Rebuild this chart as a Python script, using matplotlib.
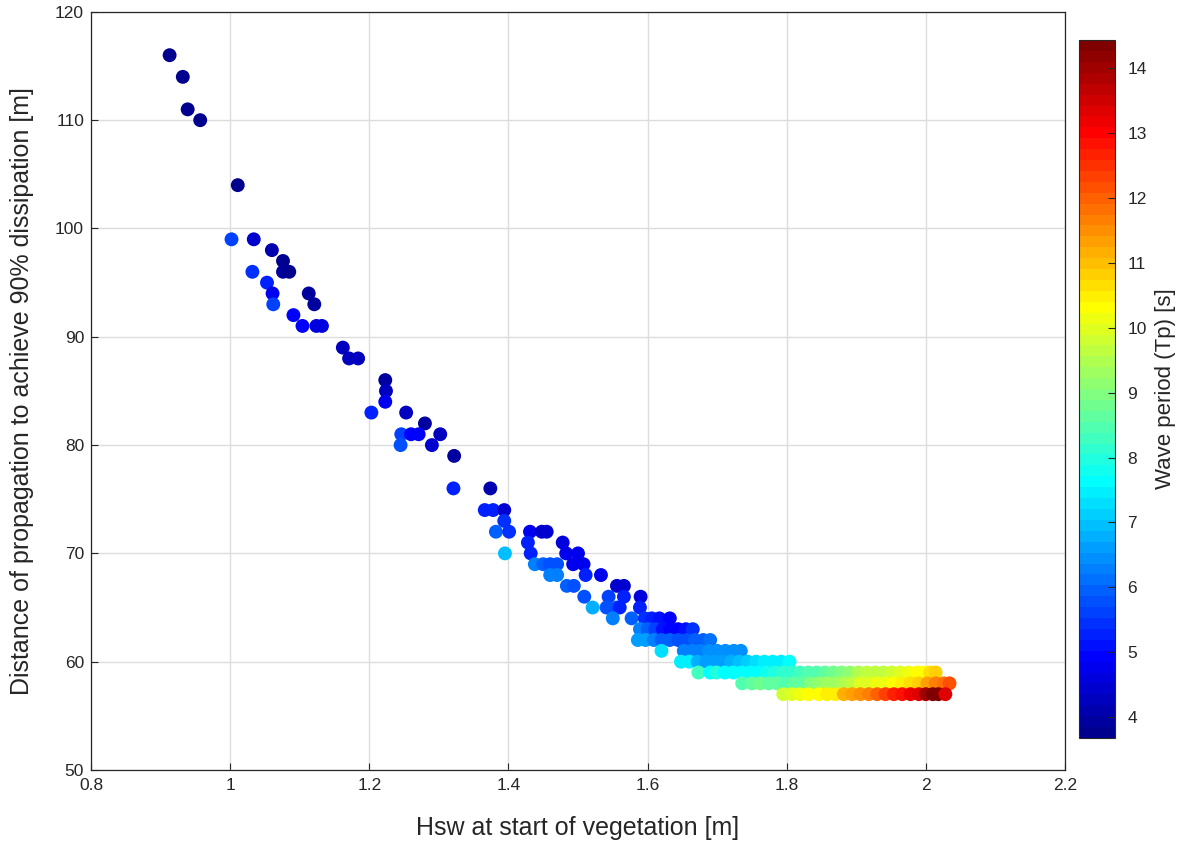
import matplotlib
matplotlib.use('Agg')
import matplotlib.pyplot as plt
from matplotlib.colors import ListedColormap
from matplotlib.ticker import FormatStrFormatter

plt.rcParams['font.family'] = ['Liberation Sans', 'DejaVu Sans']

# Hsw at start of vegetation [m], distance to 90% dissipation [m], wave period Tp [s]
# sparse upper branch
hsw_upper = [0.913, 0.932, 0.939, 0.957, 1.011, 1.002, 1.034, 1.060, 1.076, 1.032,
             1.076, 1.085, 1.053, 1.061, 1.113, 1.062, 1.121, 1.091, 1.104, 1.124,
             1.132, 1.162, 1.171, 1.184, 1.223, 1.224, 1.223, 1.203, 1.253, 1.280,
             1.246, 1.260, 1.271, 1.302, 1.245, 1.290, 1.322, 1.321, 1.374, 1.366,
             1.378, 1.394, 1.394, 1.382, 1.401, 1.431, 1.448, 1.455, 1.428, 1.478,
             1.395, 1.432, 1.483, 1.500, 1.438, 1.450, 1.460, 1.470, 1.493, 1.508,
             1.460, 1.470, 1.511, 1.533, 1.484, 1.494, 1.556, 1.566, 1.509, 1.544,
             1.566, 1.590, 1.521, 1.541, 1.556, 1.560, 1.589, 1.550, 1.577, 1.596,
             1.606, 1.617, 1.632]
dist_upper = [116, 114, 111, 110, 104, 99, 99, 98, 97, 96,
              96, 96, 95, 94, 94, 93, 93, 92, 91, 91,
              91, 89, 88, 88, 86, 85, 84, 83, 83, 82,
              81, 81, 81, 81, 80, 80, 79, 76, 76, 74,
              74, 74, 73, 72, 72, 72, 72, 72, 71, 71,
              70, 70, 70, 70, 69, 69, 69, 69, 69, 69,
              68, 68, 68, 68, 67, 67, 67, 67, 66, 66,
              66, 66, 65, 65, 65, 65, 65, 64, 64, 64,
              64, 64, 64]
tp_upper = [3.7, 3.7, 3.7, 3.7, 3.7, 5.6, 4.5, 4.1, 3.8, 5.5,
            3.9, 3.8, 5.2, 4.8, 3.9, 5.6, 3.9, 5.0, 5.0, 4.6,
            4.6, 4.3, 4.3, 4.3, 4.0, 4.2, 4.8, 5.3, 4.3, 3.9,
            5.6, 5.0, 4.9, 4.3, 5.8, 4.4, 4.0, 5.3, 4.1, 5.3,
            5.3, 4.5, 5.5, 6.0, 5.4, 4.8, 4.5, 4.5, 5.2, 4.6,
            7.0, 5.3, 4.8, 4.7, 6.3, 6.0, 5.8, 5.7, 4.8, 4.8,
            6.2, 6.2, 5.3, 4.8, 5.9, 5.8, 4.5, 4.5, 5.8, 5.6,
            5.3, 4.6, 6.8, 5.8, 5.7, 5.3, 5.2, 6.3, 6.0, 5.4,
            5.2, 5.1, 5.0]

# dense lower tail, one list per distance row
hsw_63 = [1.589, 1.600, 1.611, 1.622, 1.633, 1.644, 1.655, 1.665]
tp_63 = [6.2, 6.0, 5.6, 5.1, 5.0, 5.0, 5.1, 5.4]

hsw_62 = [1.586, 1.597, 1.609, 1.620, 1.632, 1.644, 1.656, 1.668, 1.680, 1.690]
tp_62 = [6.7, 6.6, 6.3, 6.0, 5.9, 5.8, 5.8, 6.0, 6.0, 6.1]

hsw_61 = [1.620, 1.652, 1.664, 1.676, 1.688, 1.700, 1.712, 1.724, 1.734]
tp_61 = [7.3, 6.2, 6.3, 6.3, 6.4, 6.4, 6.5, 6.5, 6.5]

hsw_60 = [1.648, 1.660, 1.672, 1.684, 1.696, 1.708, 1.720, 1.732, 1.744,
          1.756, 1.768, 1.780, 1.792, 1.804]
tp_60 = [7.5, 7.4, 6.8, 6.7, 6.7, 6.6, 6.8, 7.0, 7.2, 7.3, 7.4, 7.5, 7.5, 7.6]

hsw_59 = [1.673, 1.690, 1.699, 1.711, 1.723, 1.735, 1.747, 1.759, 1.771, 1.783,
          1.795, 1.807, 1.819, 1.831, 1.843, 1.855, 1.867, 1.879, 1.891, 1.903,
          1.915, 1.927, 1.939, 1.951, 1.963, 1.975, 1.987, 1.997, 2.006, 2.014]
tp_59 = [8.3, 7.7, 8.0, 7.6, 7.6, 7.7, 7.6, 7.7, 7.8, 8.0,
         8.1, 8.2, 8.3, 8.4, 8.5, 8.6, 8.8, 8.9, 9.2, 9.4,
         9.6, 9.7, 9.7, 9.8, 9.9, 10.2, 10.3, 10.3, 10.6, 10.8]

hsw_58 = [1.736, 1.750, 1.762, 1.774, 1.786, 1.798, 1.810, 1.822, 1.834, 1.846,
          1.858, 1.870, 1.882, 1.894, 1.906, 1.918, 1.930, 1.942, 1.954, 1.966,
          1.978, 1.990, 2.002, 2.014, 2.026, 2.034]
tp_58 = [8.5, 8.6, 8.8, 8.7, 8.6, 8.5, 8.6, 8.7, 8.9, 9.1,
         9.3, 9.3, 9.5, 9.7, 9.9, 10.0, 10.1, 10.2, 10.3, 10.5,
         10.7, 10.9, 11.3, 11.6, 11.9, 12.1]

hsw_57 = [1.795, 1.807, 1.819, 1.831, 1.846, 1.858, 1.870, 1.882, 1.894, 1.906,
          1.918, 1.930, 1.942, 1.954, 1.966, 1.978, 1.990, 2.000, 2.010, 2.018, 2.028]
tp_57 = [9.8, 9.9, 10.2, 10.3, 10.3, 10.4, 10.4, 11.2, 11.4, 11.5,
         11.7, 12.0, 12.3, 12.7, 12.9, 13.1, 13.3, 14.0, 14.4, 14.3, 13.3]

rows = [(63, hsw_63, tp_63), (62, hsw_62, tp_62), (61, hsw_61, tp_61),
        (60, hsw_60, tp_60), (59, hsw_59, tp_59), (58, hsw_58, tp_58),
        (57, hsw_57, tp_57)]

hsw = list(hsw_upper)
dist = list(dist_upper)
tp = list(tp_upper)
for d, xs, ts in rows:
    hsw += xs
    dist += [d] * len(xs)
    tp += ts


def matlab_jet(n=64):
    # MATLAB-style jet: dark blue -> blue -> cyan -> yellow -> red -> dark red
    q = n // 4
    h = q // 2
    cols = []
    for i in range(n):
        k = i + 1
        if k <= h:
            r, g, b = 0.0, 0.0, (h + k) / q
        elif k <= h + q:
            r, g, b = 0.0, (k - h) / q, 1.0
        elif k <= h + 2 * q:
            r, g, b = (k - h - q) / q, 1.0, 1.0 - (k - h - q) / q
        elif k <= h + 3 * q:
            r, g, b = 1.0, 1.0 - (k - h - 2 * q) / q, 0.0
        else:
            r, g, b = 1.0 - (k - h - 3 * q) / q, 0.0, 0.0
        cols.append((r, g, min(b, 1.0)))
    return ListedColormap(cols)


fig = plt.figure(figsize=(11.86, 8.48), dpi=100)
ax = fig.add_axes([0.0767, 0.092, 0.8213, 0.894])
cax = fig.add_axes([0.9098, 0.1297, 0.0304, 0.823])

cmap = matlab_jet(64)
sc = ax.scatter(hsw, dist, c=tp, cmap=cmap, vmin=3.68, vmax=14.43, s=100,
                edgecolors='none', zorder=3)

ax.set_xlim(0.8, 2.2)
ax.set_ylim(50, 120)
ax.set_xticks([0.8, 1.0, 1.2, 1.4, 1.6, 1.8, 2.0, 2.2])
ax.set_yticks(range(50, 121, 10))
ax.xaxis.set_major_formatter(FormatStrFormatter('%g'))
ax.grid(True, color='#dcdcdc', linewidth=1.0, zorder=0)
ax.set_axisbelow(True)
ax.tick_params(direction='in', length=5, labelsize=12.5, colors='#262626',
               top=False, right=False)
ax.tick_params(axis='x', pad=6)
ax.tick_params(axis='y', pad=5)
for sp in ax.spines.values():
    sp.set_color('#262626')
    sp.set_linewidth(0.9)
ax.set_xlabel('Hsw at start of vegetation [m]', fontsize=18, color='#262626',
              labelpad=16)
ax.set_ylabel('Distance of propagation to achieve 90% dissipation [m]',
              fontsize=18, color='#262626', labelpad=15)

cb = fig.colorbar(sc, cax=cax)
cb.set_ticks(range(4, 15))
cb.ax.tick_params(direction='in', length=5, labelsize=12.5, colors='#262626',
                  pad=9)
cb.outline.set_edgecolor('#262626')
cb.outline.set_linewidth(0.8)
cb.set_label('Wave period (Tp) [s]', fontsize=16, color='#262626', labelpad=6)

fig.savefig('out.png', dpi=100)
